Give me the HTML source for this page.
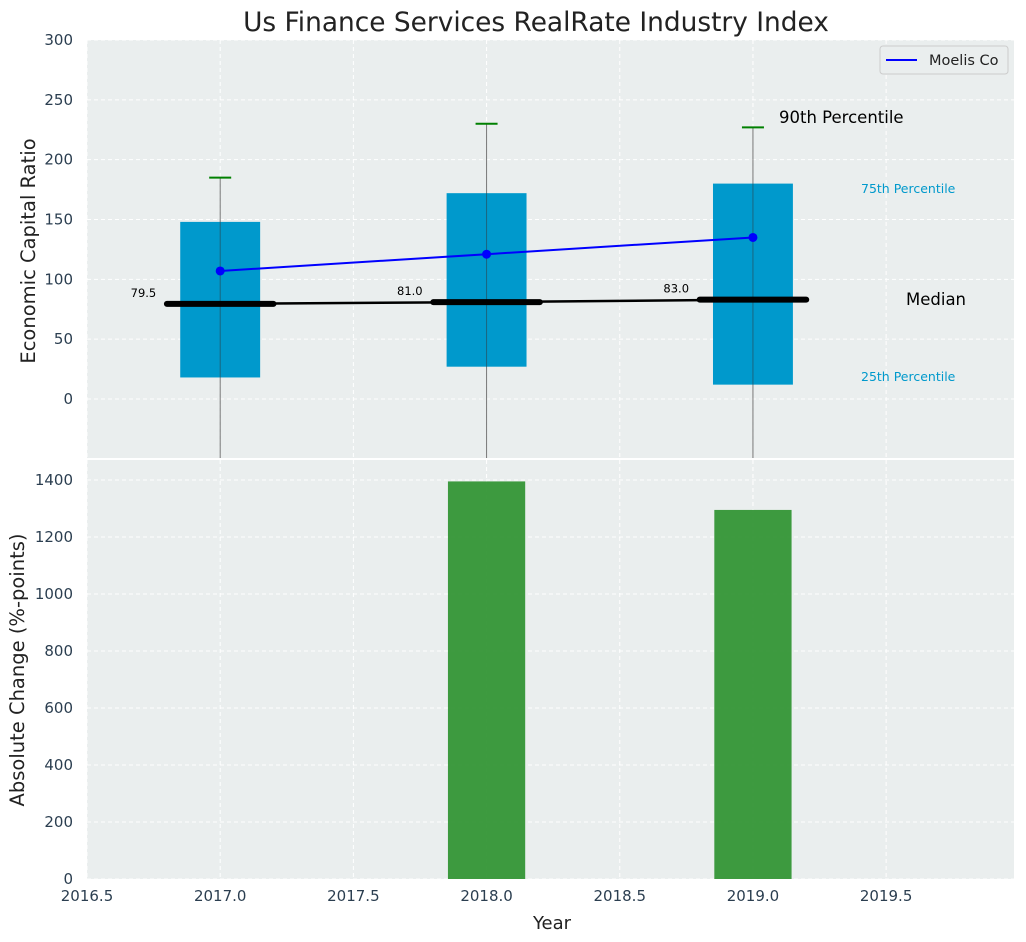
<!DOCTYPE html>
<html><head><meta charset="utf-8"><style>
body{margin:0;background:#fff;}
svg{display:block;font-family:"DejaVu Sans","Liberation Sans",sans-serif;}
</style></head><body>
<svg id="c" width="1026" height="942"></svg>
<script>
const years=[2017,2018,2019];
const q25=[18,27,12];
const q75=[148,172,180];
const med=[79.5,81.0,83.0];
const p90=[185,230,227];
const medLabels=["79.5","81.0","83.0"];
const company=[107,121,135];
const changes=[0,1395,1295];
const xTicks=[2016.5,2017,2017.5,2018,2018.5,2019,2019.5];
const yTopTicks=[0,50,100,150,200,250,300];
const yBotTicks=[0,200,400,600,800,1000,1200,1400];

const NS="http://www.w3.org/2000/svg";
const svg=document.getElementById('c');
function el(t,a,p){const e=document.createElementNS(NS,t);for(const k in a)e.setAttribute(k,a[k]);(p||svg).appendChild(e);return e;}
const L=87,R=1014;
const X=v=>L+(v-2016.5)*(R-L)/3.48;
const T0=40,T1=458,B0=460,B1=879;
const YT=v=>399-v*(399-40)/300;
const YB=v=>879-v*(879-480)/1400;

let p=el('rect',{x:L,y:T0,width:R-L,height:T1-T0,fill:'#eaeeee'});

p=el('rect',{x:L,y:B0,width:R-L,height:B1-B0,fill:'#eaeeee'});

const defs=el('defs',{});
const cp=el('clipPath',{id:'ct'},defs);el('rect',{x:L,y:T0,width:R-L,height:T1-T0},cp);

xTicks.forEach(v=>{
 el('line',{x1:X(v),x2:X(v),y1:T0,y2:T1,stroke:'#fff','stroke-dasharray':'4,3','stroke-width':1});
 el('line',{x1:X(v),x2:X(v),y1:B0,y2:B1,stroke:'#fff','stroke-dasharray':'4,3','stroke-width':1});
 const t=el('text',{x:X(v),y:B1+22,'text-anchor':'middle','font-size':15,fill:'#2b3e50'});t.textContent=v.toFixed(1);
 
});
yTopTicks.forEach(v=>{
 el('line',{x1:L,x2:R,y1:YT(v),y2:YT(v),stroke:'#fff','stroke-dasharray':'4,3'});
 const t=el('text',{x:L-14,y:YT(v)+5,'text-anchor':'end','font-size':15,fill:'#2b3e50'});t.textContent=v;
 
});
yBotTicks.forEach(v=>{
 el('line',{x1:L,x2:R,y1:YB(v),y2:YB(v),stroke:'#fff','stroke-dasharray':'4,3'});
 const t=el('text',{x:L-14,y:YB(v)+5,'text-anchor':'end','font-size':15,fill:'#2b3e50'});t.textContent=v;
 
});

const g=el('g',{'clip-path':'url(#ct)'});
const hw=0.15;
years.forEach((y,i)=>{
 let w=el('line',{x1:X(y),x2:X(y),y1:YT(p90[i]),y2:T1,stroke:'#777','stroke-width':1},g);
 
 let b=el('rect',{x:X(y-hw),y:YT(q75[i]),width:X(y+hw)-X(y-hw),height:YT(q25[i])-YT(q75[i]),fill:'#0099cc'},g);
 
 el('line',{x1:X(y),x2:X(y),y1:YT(q75[i]),y2:YT(q25[i]),stroke:'#333','stroke-width':1,opacity:0.5},g);
 let c=el('line',{x1:X(y)-11,x2:X(y)+11,y1:YT(p90[i]),y2:YT(p90[i]),stroke:'green','stroke-width':2},g);
 
});
let pts=years.map((y,i)=>X(y)+','+YT(med[i])).join(' ');
let ml=el('polyline',{points:pts,fill:'none',stroke:'#000','stroke-width':2.5},g);

years.forEach((y,i)=>{
 let m=el('line',{x1:X(y-0.2),x2:X(y+0.2),y1:YT(med[i]),y2:YT(med[i]),stroke:'#000','stroke-width':6,'stroke-linecap':'round'},g);
 
 let t=el('text',{x:X(y-0.24),y:YT(med[i])-7,'text-anchor':'end','font-size':11.5,fill:'#000'});t.textContent=medLabels[i];
 
});
pts=years.map((y,i)=>X(y)+','+YT(company[i])).join(' ');
let cl=el('polyline',{points:pts,fill:'none',stroke:'blue','stroke-width':2},g);

years.forEach((y,i)=>{let d=el('circle',{cx:X(y),cy:YT(company[i]),r:4.5,fill:'blue'},g);
 });

years.forEach((y,i)=>{
 if(changes[i]<=0)return;
 let b=el('rect',{x:X(y-0.145),y:YB(changes[i]),width:X(y+0.145)-X(y-0.145),height:YB(0)-YB(changes[i]),fill:'#2e9330',opacity:0.92});
 
});

function txt(x,y,s,size,fill,name,anchor,extra){const t=el('text',Object.assign({x:x,y:y,'font-size':size,fill:fill,'text-anchor':anchor||'start'},extra||{}));t.textContent=s;
 return t;}
txt(779,123,'90th Percentile',16.5,'#000','p90-annotation');
txt(861,193,'75th Percentile',12.5,'#0099cc','p75-annotation');
txt(861,381,'25th Percentile',12.5,'#0099cc','p25-annotation');
txt(906,305,'Median',16.5,'#000','median-annotation');
txt(536,31,'Us Finance Services RealRate Industry Index',26.4,'#222','chart-title','middle');
txt(552,929,'Year',18,'#222','x-axis-title','middle');
txt(35,251,'Economic Capital Ratio',19.5,'#222','y-top-axis-title','middle',{transform:'rotate(-90 35 251)'});
txt(24,670,'Absolute Change (%-points)',19.5,'#222','y-bottom-axis-title','middle',{transform:'rotate(-90 24 670)'});

const lg=el('g',{});

el('rect',{x:880,y:46,width:128,height:28,rx:3,fill:'#eaeeee',stroke:'#ccc'},lg);
el('line',{x1:886,x2:917,y1:60,y2:60,stroke:'blue','stroke-width':2},lg);
let lt=el('text',{x:929,y:65,'font-size':14.5,fill:'#222'},lg);lt.textContent='Moelis Co';

</script>
</body></html>
